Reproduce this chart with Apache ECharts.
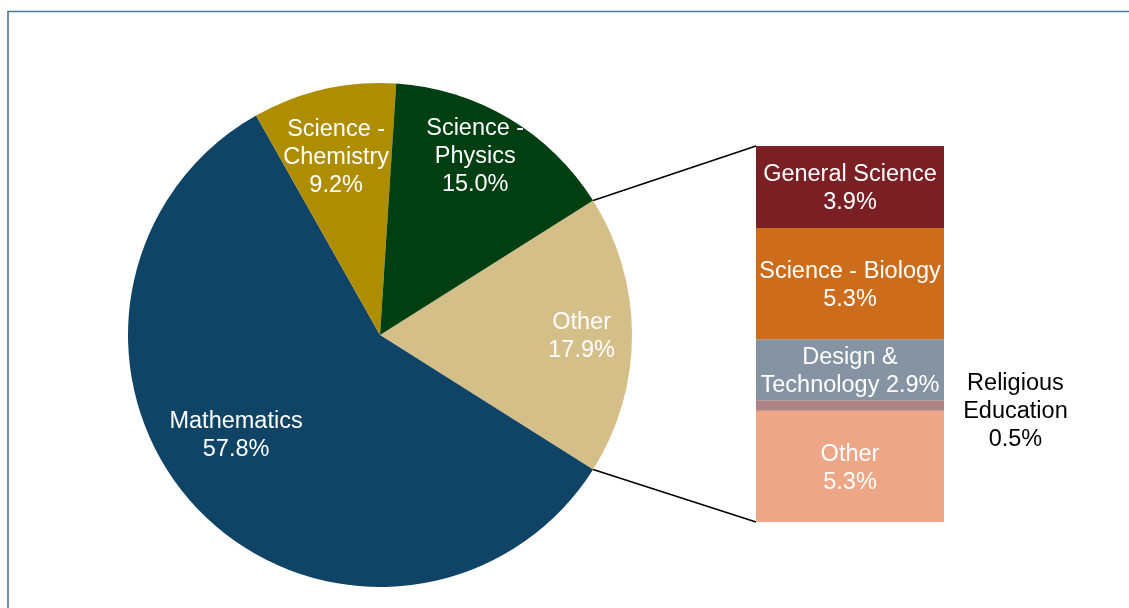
<!DOCTYPE html>
<html>
<head>
<meta charset="utf-8">
<script src="https://cdn.jsdelivr.net/npm/echarts@6/dist/echarts.min.js"></script>
<style>
html,body{margin:0;padding:0;background:#fff;}
#chart{width:1129px;height:608px;}
</style>
</head>
<body>
<div id="chart"></div>
<script>
// ---- data ----
const pieNames = ['Other', 'Mathematics', 'Science - Chemistry', 'Science - Physics'];
const pieLabelTpl = ['Other\n{p}', 'Mathematics\n{p}', 'Science -\nChemistry\n{p}', 'Science -\nPhysics\n{p}'];
const pieValues = [17.9, 57.8, 9.2, 15.0];
const pieColors = ['#d4bf88', '#0f4466', '#ae8e00', '#003f12'];

// bar of pie (stack, bottom -> top)
const barNames = ['Other', 'Religious Education', 'Design & Technology', 'Science - Biology', 'General Science'];
const barLabelTpl = ['Other\n{p}', 'Religious\nEducation\n{p}', 'Design &\nTechnology {p}', 'Science - Biology\n{p}', 'General Science\n{p}'];
const barValues = [5.3, 0.5, 2.9, 5.3, 3.9];
const barColors = ['#eda686', '#ad8384', '#8593a2', '#cd6d1c', '#7a1f24'];

// ---- layout ----
const FONT = 'Liberation Sans, Arial, sans-serif';
const FS = 23.5, LH = 28;
const CX = 380, CY = 335, R = 252;
// label anchors in polar form [fraction of radius, angle deg]
const pieLabelPolar = [[0.80, 0], [0.693, 214.5], [0.735, 103.7], [0.81, 62.2]];

const pieTotal = pieValues.reduce((a, b) => a + b, 0);
const barTotal = barValues.reduce((a, b) => a + b, 0);
const startAngle = pieValues[0] / pieTotal * 180;
const fmt = (tpl, v) => tpl.replace('{p}', v.toFixed(1) + '%');

const chart = echarts.init(document.getElementById('chart'), null, {renderer: 'canvas'});

const series = [{
  type: 'pie',
  center: [CX, CY],
  radius: [0, R],
  startAngle: startAngle,
  clockwise: true,
  animation: false,
  silent: true,
  data: pieNames.map((n, i) => ({
    name: n, value: pieValues[i],
    itemStyle: {color: pieColors[i]},
    label: {formatter: fmt(pieLabelTpl[i], pieValues[i])}
  })),
  label: {show: true, position: 'inside', color: '#fff', fontFamily: FONT, fontSize: FS, lineHeight: LH, align: 'center'},
  labelLine: {show: false},
  labelLayout: function (p) {
    const pl = pieLabelPolar[p.dataIndex];
    const a = pl[1] * Math.PI / 180;
    return {x: CX + pl[0] * R * Math.cos(a), y: CY - pl[0] * R * Math.sin(a) + 2, align: 'center', verticalAlign: 'middle'};
  }
}];

barNames.forEach((n, i) => {
  const isRE = n === 'Religious Education';
  series.push({
    type: 'bar',
    name: n,
    stack: 'sub',
    barWidth: '100%',
    animation: false,
    silent: true,
    itemStyle: {color: barColors[i]},
    data: [barValues[i]],
    label: isRE ? {
      show: true, position: ['138%', '90%'], offset: [0, 2], align: 'center', verticalAlign: 'middle',
      color: '#000', fontFamily: FONT, fontSize: FS, lineHeight: LH,
      formatter: fmt(barLabelTpl[i], barValues[i])
    } : {
      show: true, position: 'inside', offset: [0, 2], align: 'center', verticalAlign: 'middle',
      color: '#fff', fontFamily: FONT, fontSize: FS, lineHeight: LH,
      formatter: fmt(barLabelTpl[i], barValues[i])
    }
  });
});

chart.setOption({
  backgroundColor: '#fff',
  animation: false,
  grid: {left: 756, right: 185, top: 146, bottom: 86, containLabel: false},
  xAxis: {type: 'category', data: ['sub'], show: false, boundaryGap: true},
  yAxis: {type: 'value', min: 0, max: barTotal, show: false},
  series: series
});

// connector lines and frame
const gridRect = chart.getModel().getComponent('grid').coordinateSystem.getRect();
const topPx = chart.convertToPixel({yAxisIndex: 0}, barTotal);
const botPx = chart.convertToPixel({yAxisIndex: 0}, 0);
const a = startAngle * Math.PI / 180;
const p1 = [CX + R * Math.cos(a), CY - R * Math.sin(a)];
const p2 = [CX + R * Math.cos(a), CY + R * Math.sin(a)];
chart.setOption({
  graphic: [
    {type: 'rect', shape: {x: 8, y: 11.5, width: 1300, height: 800}, style: {fill: null, stroke: '#4b7697', lineWidth: 1.6}, silent: true},
    {type: 'line', shape: {x1: p1[0], y1: p1[1], x2: gridRect.x, y2: topPx}, style: {stroke: '#000', lineWidth: 1.6}, silent: true},
    {type: 'line', shape: {x1: p2[0], y1: p2[1], x2: gridRect.x, y2: botPx}, style: {stroke: '#000', lineWidth: 1.6}, silent: true}
  ]
});
</script>
</body>
</html>
